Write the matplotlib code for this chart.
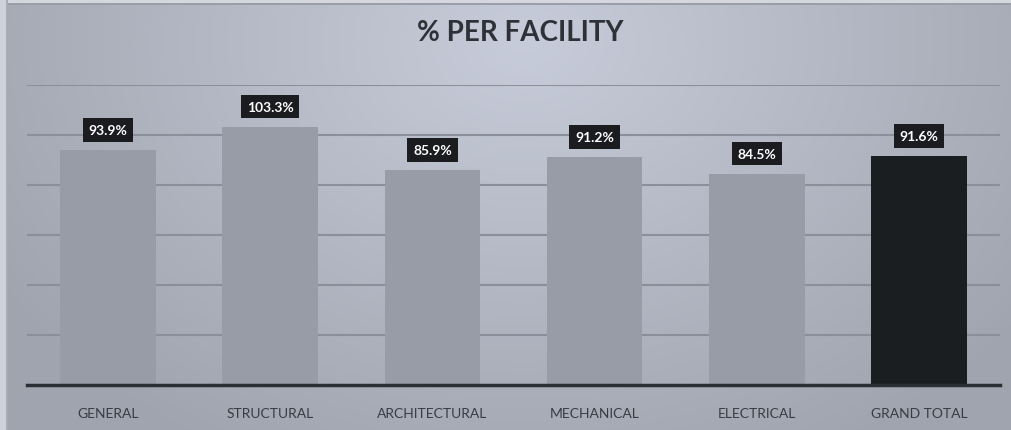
import numpy as np
import matplotlib
matplotlib.use("Agg")
import matplotlib.pyplot as plt

categories = ["GENERAL", "STRUCTURAL", "ARCHITECTURAL", "MECHANICAL", "ELECTRICAL", "GRAND TOTAL"]
values = [93.9, 103.3, 85.9, 91.2, 84.5, 91.6]
labels = ["93.9%", "103.3%", "85.9%", "91.2%", "84.5%", "91.6%"]
title = "% PER FACILITY"

W, H = 1011, 431
fig = plt.figure(figsize=(W / 100, H / 100), dpi=100)

# background gradient
bg = fig.add_axes([0, 0, 1, 1])
xs = np.linspace(0, 1, W)
ys = np.linspace(0, 1, H)
X, Y = np.meshgrid(xs, ys)
d = np.sqrt(((X - 0.52) / 0.62) ** 2 + ((Y - 0.1) / 1.1) ** 2)
t = np.clip(d, 0, 1)
c_in = np.array([0xc7, 0xcc, 0xda]) / 255
c_out = np.array([0xa0, 0xa4, 0xae]) / 255
img = c_in[None, None, :] * (1 - t[..., None]) + c_out[None, None, :] * t[..., None]
# outer frame
img[:4, :, :] = np.array([0xd4, 0xd7, 0xde]) / 255
img[4:6, :, :] = np.array([0x9a, 0x9e, 0xa8]) / 255
img[:, :6, :] = np.array([0xcf, 0xd2, 0xda]) / 255
img[:, 6:8, :] = np.array([0xa8, 0xac, 0xb6]) / 255
bg.imshow(img, aspect="auto", extent=[0, 1, 0, 1], origin="upper")
bg.set_axis_off()

ax = fig.add_axes([27 / W, 1 - 386 / H, (1000 - 27) / W, (386 - 86) / H])
ax.patch.set_alpha(0)
x = np.arange(len(categories))
colors = ["#979ca6"] * (len(categories) - 1) + ["#1b1e21"]
ax.bar(x, values, width=0.59, color=colors, zorder=3)
ax.set_xlim(-0.5, len(categories) - 0.5)
ax.set_ylim(0, 120)
ax.set_yticks([20, 40, 60, 80, 100, 120])
ax.yaxis.grid(True, color="#8a8f9a", linewidth=1.5, zorder=1)
ax.tick_params(axis="y", left=False, labelleft=False)
ax.tick_params(axis="x", bottom=False, pad=12)
for s in ["top", "right", "left"]:
    ax.spines[s].set_visible(False)
ax.spines["bottom"].set_color("#2b2f35")
ax.spines["bottom"].set_linewidth(2.5)
ax.spines["bottom"].set_zorder(4)
ax.set_xticks(x)
ax.set_xticklabels(categories, fontsize=10, color="#383c44", family="Lato")

for xi, v, lab in zip(x, values, labels):
    ax.annotate(lab, (xi, v), xytext=(0, 14.5), textcoords="offset points",
                ha="center", va="center", fontsize=10, fontweight="bold",
                color="white", family="Lato", zorder=5,
                bbox=dict(boxstyle="square,pad=0.42", fc="#1a1c1f", ec="none"))

fig.text(520 / W, 1 - 33 / H, title, ha="center", va="center", fontsize=20,
         fontweight="bold", color="#2e3238", family="Lato")

fig.savefig("out.png", dpi=100)
